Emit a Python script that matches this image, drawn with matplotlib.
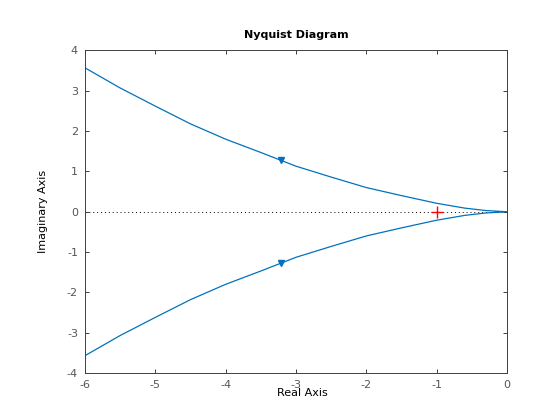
import matplotlib
matplotlib.use("Agg")
import matplotlib.pyplot as plt
import numpy as np

# upper branch of the Nyquist curve (real, imag)
re_upper = [-6.0, -5.5, -5.0, -4.5, -4.0, -3.5, -3.0, -2.5, -2.0, -1.5, -1.0, -0.6, -0.3, 0.0]
im_upper = [3.57, 3.07, 2.62, 2.18, 1.80, 1.47, 1.13, 0.86, 0.60, 0.40, 0.21, 0.09, 0.03, 0.0]

# direction arrows on both branches
arrow_re = [-3.22, -3.22]
arrow_im = [1.28, -1.28]

critical_point = (-1, 0)

x_ticks = [-6, -5, -4, -3, -2, -1, 0]
y_ticks = [-4, -3, -2, -1, 0, 1, 2, 3, 4]

plt.rcParams["font.family"] = ["DejaVu Sans"]

fig = plt.figure(figsize=(5.6, 4.2), dpi=100)
ax = fig.add_axes([85 / 560, 47 / 420, 422 / 560, 322.5 / 420])

blue = "#0072BD"
gray = "#404040"

re = np.array(re_upper)
im = np.array(im_upper)
# full curve: upper branch out to zero, then mirrored lower branch
re_full = np.concatenate([re, re[::-1][1:]])
im_full = np.concatenate([im, -im[::-1][1:]])

ax.plot([-6, 0], [0, 0], color="black", linestyle=(0, (1, 3)), linewidth=0.7)
ax.plot(re_full, im_full, color=blue, linewidth=0.9)
ax.plot(arrow_re, arrow_im, linestyle="none", marker="v", markersize=4.5, color=blue)
ax.plot(*critical_point, marker="+", markersize=8, color="red", markeredgewidth=1.0)

ax.set_xlim(-6, 0)
ax.set_ylim(-4, 4)
ax.set_xticks(x_ticks)
ax.set_yticks(y_ticks)
ax.set_xticklabels([str(t) for t in x_ticks])
ax.set_yticklabels([str(t) for t in y_ticks])

for s in ax.spines.values():
    s.set_color(gray)
    s.set_linewidth(0.7)
ax.tick_params(direction="in", length=3, width=0.7, colors=gray, labelsize=8,
               top=True, right=True, pad=5)
ax.tick_params(axis="x", labelcolor="#555555")
ax.tick_params(axis="y", labelcolor="#555555")

ax.set_title("Nyquist Diagram", fontsize=8, fontweight="bold", pad=9)
ax.set_xlabel("Real Axis", fontsize=8)
ax.xaxis.set_label_coords(0.514, -0.048)
ax.set_ylabel("Imaginary Axis", fontsize=8)
ax.yaxis.set_label_coords(-0.088, 0.5)

fig.savefig("out.png", dpi=100)
